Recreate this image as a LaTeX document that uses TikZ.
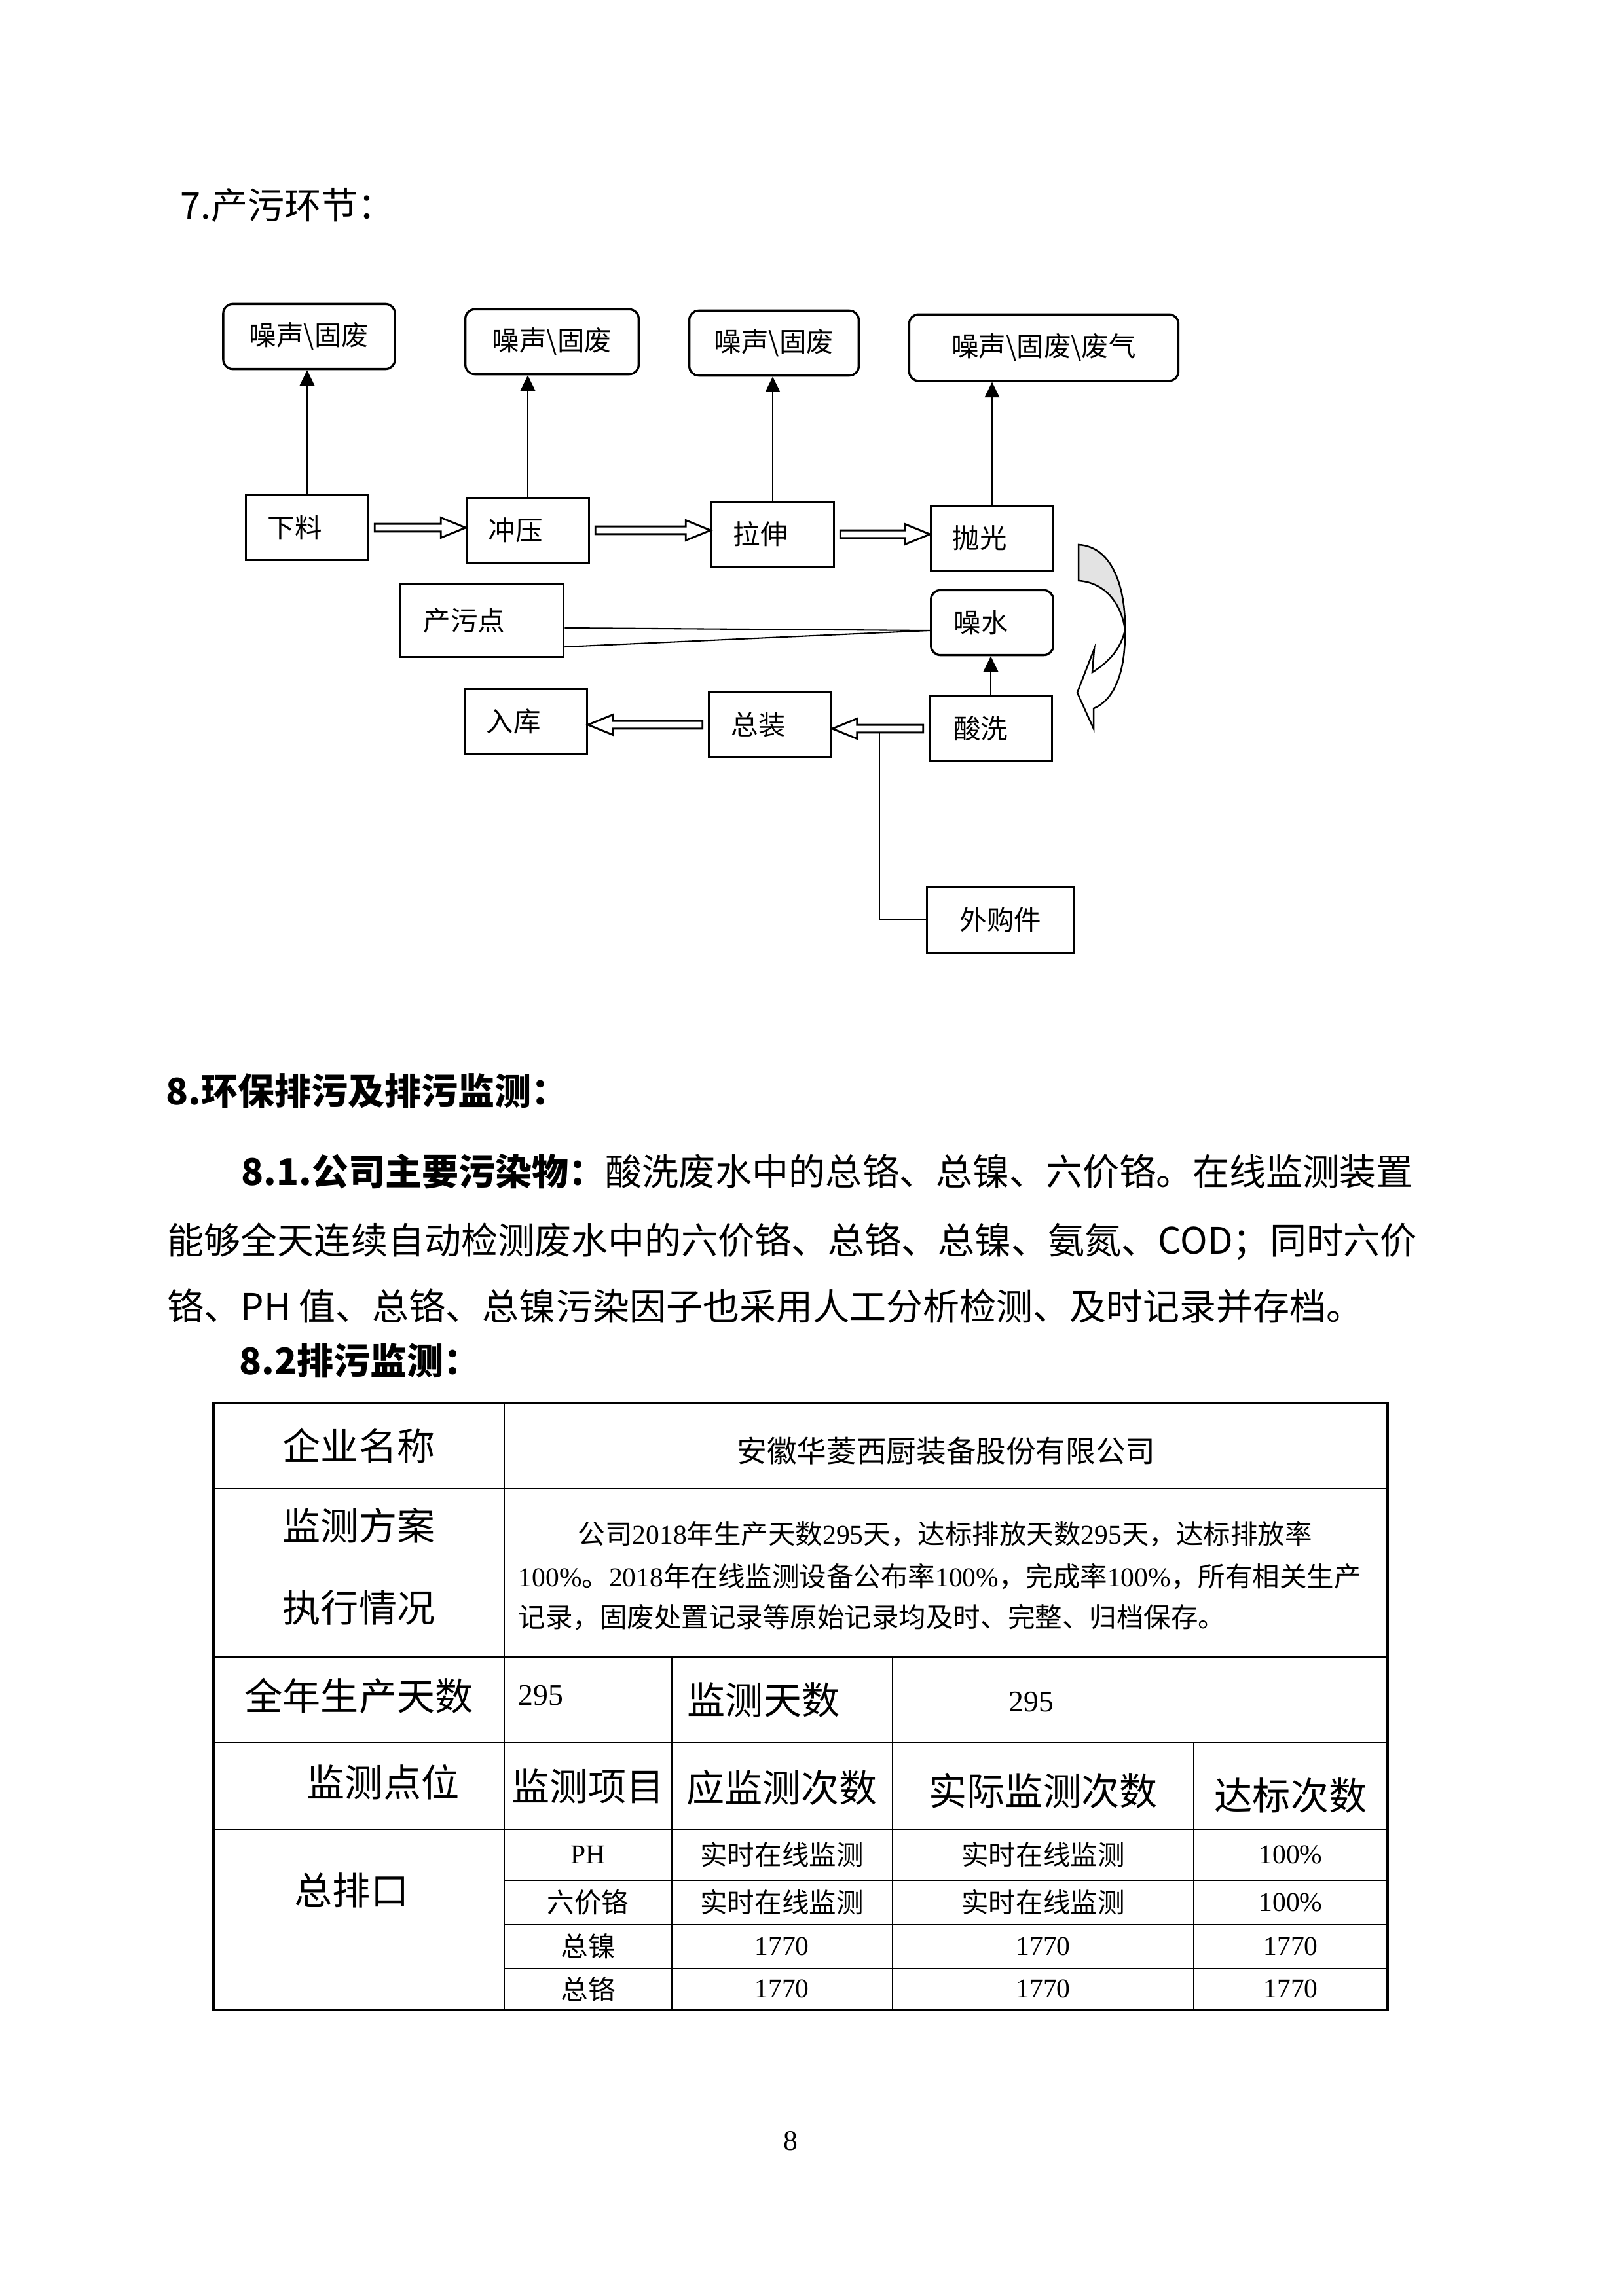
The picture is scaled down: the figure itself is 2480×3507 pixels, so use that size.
\documentclass[tikz,border=0pt]{standalone}
\usepackage{fontspec}
\setmainfont{Noto Sans CJK SC}
\newfontfamily\lat{Liberation Serif}
\usetikzlibrary{arrows.meta, calc, positioning}
\XeTeXlinebreaklocale "zh"
\XeTeXlinebreakskip=0pt plus 3pt minus 0.6pt
\newcommand{\bigtxt}{\fontsize{13.5pt}{16pt}\selectfont}
\newcommand{\hdtxt}{\fontsize{14pt}{16pt}\selectfont}
\newcommand{\boxtxt}{\fontsize{10pt}{12pt}\selectfont}
\newcommand{\smalltxt}{\fontsize{10pt}{12pt}\selectfont}
\newcommand{\numtxt}{\fontsize{10.5pt}{12pt}\selectfont\lat}
% hollow block arrow from #1 to #2 (left or right)
\newcommand{\hollowarrow}[2]{%
  \draw[hollow] let \p1=(#1), \p2=(#2), \n1={(\x2>\x1)*2-1} in
    ({\x1+\n1*0.7mm},{\y1+0.5mm}) -- ({\x2-\n1*3.2mm},{\y1+0.5mm})
    -- ({\x2-\n1*3.2mm},{\y1+1.3mm}) -- (\x2,\y1)
    -- ({\x2-\n1*3.2mm},{\y1-1.3mm}) -- ({\x2-\n1*3.2mm},{\y1-0.5mm})
    -- ({\x1+\n1*0.7mm},{\y1-0.5mm}) -- cycle;}

\begin{document}
\begin{tikzpicture}[x=0.08467mm, y=-0.08467mm,
    proc/.style={draw, line width=0.8pt, minimum width=15.8mm, minimum height=8.4mm,
                 inner sep=0pt, font=\boxtxt},
    noise/.style={proc, rounded corners=1.2mm, minimum width=22.2mm},
    lefttext/.style={execute at end node={\hspace*{#1}}},
    lefttext/.default=3.2mm,
    arrow/.style={-{Triangle[length=2mm, width=1.9mm]}, line width=0.5pt},
    hollow/.style={line width=0.7pt, fill=white},
    link/.style={line width=0.5pt},
    turn/.style={line width=0.6pt},
    heading/.style={anchor=west, inner sep=0pt, font=\bigtxt},
    jline/.style={anchor=west, inner sep=0pt, align=justify, font=\bigtxt},
    hd/.style={inner sep=0pt, font=\hdtxt},
    cell/.style={inner sep=0pt, font=\smalltxt},
    tline/.style={line width=0.6pt},
    touter/.style={line width=1pt}
]
\fill[white] (0,0) rectangle (2480,3507);
\useasboundingbox (0,0) rectangle (2480,3507);

% section 7
\node[heading] (h7) at (275,313) {7.产污环节：};

% pollution outputs
\node[noise] (gf1) at (472,514) {噪声\textbackslash 固废};
\node[noise, minimum width=22.4mm] (gf2) at (843,522) {噪声\textbackslash 固废};
\node[noise, minimum width=21.9mm] (gf3) at (1182,524) {噪声\textbackslash 固废};
\node[noise, minimum width=34.8mm, minimum height=8.6mm] (gf4) at (1594,531) {噪声\textbackslash 固废\textbackslash 废气};

% process steps
\node[proc, lefttext] (xl) at (469,806) {下料};
\node[proc, lefttext] (cy) at (806,810) {冲压};
\node[proc, lefttext] (ls) at (1180,816) {拉伸};
\node[proc, lefttext] (pg) at (1515,822) {抛光};
\node[proc, lefttext=4.6mm, minimum width=21.1mm, minimum height=9.4mm] (cwd) at (736,948) {产污点};
\node[proc, lefttext=2.8mm, rounded corners=1.2mm] (zs) at (1515,951) {噪水};
\node[proc, lefttext=2.6mm] (sx) at (1513,1113) {酸洗};
\node[proc, lefttext=3mm] (zz) at (1176,1107) {总装};
\node[proc, lefttext] (rk) at (803,1102) {入库};
\node[proc, minimum width=19mm, minimum height=8.6mm] (wgj) at (1528,1405) {外购件};

\foreach \from/\to in {xl/gf1, cy/gf2, ls/gf3, pg/gf4, sx/zs}
    \draw[arrow] (\from.north) -- (\from.north |- \to.south);
\foreach \from/\to in {xl.east/cy.west, cy.east/ls.west, ls.east/pg.west, sx.west/zz.east, zz.west/rk.east}
    \hollowarrow{\from}{\to};

\coordinate (tip) at ($(zs.west)+(0,12)$);
\draw[link] ($(cwd.east)+(0,11)$) -- (tip) -- ($(cwd.east)+(0,40)$);
\coordinate (jn) at (1343,1118);
\draw[link] (wgj.west) -| (jn);

% turning arrow
\draw[turn, fill=gray!22] (1647,832) .. controls (1700,835) and (1719,900) .. (1718,962)
    .. controls (1713,925) and (1690,890) .. (1647,887) -- cycle;
\draw[turn, fill=white] (1718,962) .. controls (1719,1030) and (1700,1070) .. (1670,1082)
    -- (1670,1113) -- (1645,1058) -- (1671,991) -- (1668,1027)
    .. controls (1695,1010) and (1712,990) .. (1718,962) -- cycle;

% section 8
\node[heading, font=\bigtxt\bfseries] (h8) at (253,1666) {8.环保排污及排污监测：};
\node[jline, text width=155.8mm] (l1) at (368,1789)
    {\parfillskip=0pt\noindent\textbf{8.1.公司主要污染物：}酸洗废水中的总铬、总镍、六价铬。在线监测装置};
\node[jline, text width=165.4mm] (l2) at (255,1896)
    {\parfillskip=0pt\noindent 能够全天连续自动检测废水中的六价铬、总铬、总镍、氨氮、COD；同时六价};
\node[heading] (l3) at (255,1995) {铬、PH 值、总铬、总镍污染因子也采用人工分析检测、及时记录并存档。};
\node[heading, font=\bigtxt\bfseries] (h82) at (365,2078) {8.2排污监测：};

% table grid
\foreach \y in {2274,2531,2662,2794}
    \draw[tline] (326,\y) -- (2119,\y);
\foreach \y in {2872,2940,3007}
    \draw[tline] (770,\y) -- (2119,\y);
\draw[tline] (770,2143) -- (770,3070);
\foreach \x in {1026,1363}
    \draw[tline] (\x,2531) -- (\x,3070);
\draw[tline] (1823,2662) -- (1823,3070);
\draw[touter] (326,2143) rectangle (2119,3070);

% table text
\node[hd] (c11) at (548,2208) {企业名称};
\node[cell, font=\fontsize{11pt}{13pt}\selectfont] (c12) at (1445,2216) {安徽华菱西厨装备股份有限公司};
\node[hd] (c21) at (548,2330) {监测方案};
\node[hd] (c22) at (548,2455) {执行情况};
\node[jline, font=\smalltxt, text width=102.6mm] (p1) at (882,2343)
    {\parfillskip=0pt\noindent 公司{\lat 2018}年生产天数{\lat 295}天，达标排放天数{\lat 295}天，达标排放率};
\node[jline, font=\smalltxt, text width=110.3mm] (p2) at (791,2408)
    {\parfillskip=0pt\noindent {\lat 100\%}。{\lat 2018}年在线监测设备公布率{\lat 100\%}，完成率{\lat 100\%}，所有相关生产};
\node[heading, font=\smalltxt] (p3) at (791,2470) {记录，固废处置记录等原始记录均及时、完整、归档保存。};
\node[hd] (c31) at (548,2590) {全年生产天数};
\node[cell, anchor=west, font=\fontsize{11pt}{13pt}\selectfont\lat] (c32) at (791,2590) {295};
\node[hd] (c33) at (1166,2596) {监测天数};
\node[cell, font=\fontsize{11pt}{13pt}\selectfont\lat] (c34) at (1575,2600) {295};
\node[hd] (c41) at (585,2722) {监测点位};
\node[hd] (c42) at (898,2728) {监测项目};
\node[hd] (c43) at (1194,2730) {应监测次数};
\node[hd] (c44) at (1593,2735) {实际监测次数};
\node[hd] (c45) at (1971,2742) {达标次数};
\node[hd] (out) at (537,2887) {总排口};
\foreach \yy/\itm/\pl/\ac/\ok [count=\r] in {
    2833/{\lat PH}/实时在线监测/实时在线监测/{\lat 100\%},
    2906/六价铬/实时在线监测/实时在线监测/{\lat 100\%},
    2973/总镍/{\lat 1770}/{\lat 1770}/{\lat 1770},
    3038/总铬/{\lat 1770}/{\lat 1770}/{\lat 1770}}{
    \node[cell] (itm\r) at (898,\yy) {\itm};
    \node[cell] (pl\r) at (1194,\yy) {\pl};
    \node[cell] (ac\r) at (1593,\yy) {\ac};
    \node[cell] (ok\r) at (1971,\yy) {\ok};
}

\node[cell, font=\numtxt] (pn) at (1207,3270) {8};
\end{tikzpicture}
\end{document}
